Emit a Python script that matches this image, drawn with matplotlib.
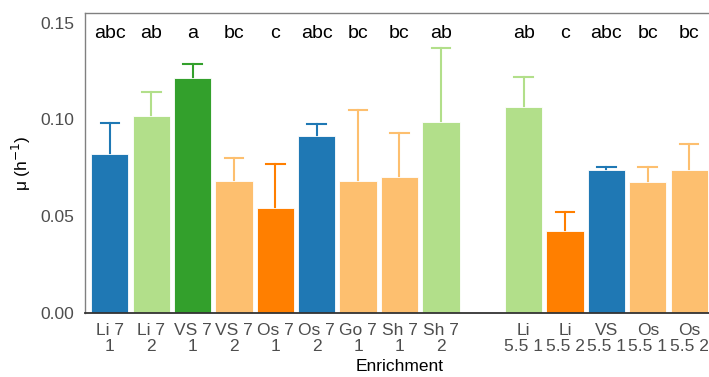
import matplotlib
matplotlib.use("Agg")
import matplotlib.pyplot as plt

plt.rcParams["font.family"] = ["Liberation Sans", "DejaVu Sans"]

labels = ["Li 7\n1", "Li 7\n2", "VS 7\n1", "VS 7\n2", "Os 7\n1", "Os 7\n2", "Go 7\n1", "Sh 7\n1", "Sh 7\n2",
          "Li\n5.5 1", "Li\n5.5 2", "VS\n5.5 1", "Os\n5.5 1", "Os\n5.5 2"]
slots = [0, 1, 2, 3, 4, 5, 6, 7, 8, 10, 11, 12, 13, 14]
mu = [0.082, 0.102, 0.1215, 0.068, 0.054, 0.0914, 0.068, 0.0703, 0.0988,
      0.1063, 0.0423, 0.0739, 0.0675, 0.0739]
err_top = [0.098, 0.114, 0.1285, 0.080, 0.0768, 0.0978, 0.105, 0.093, 0.137,
           0.122, 0.0524, 0.0756, 0.0756, 0.0875]
letters = ["abc", "ab", "a", "bc", "c", "abc", "bc", "bc", "ab",
           "ab", "c", "abc", "bc", "bc"]
colors = ["#1f78b4", "#b2df8a", "#33a02c", "#fdbf6f", "#ff7f00", "#1f78b4", "#fdbf6f", "#fdbf6f", "#b2df8a",
          "#b2df8a", "#ff7f00", "#1f78b4", "#fdbf6f", "#fdbf6f"]

fig = plt.figure(figsize=(7.09, 3.77), dpi=100)
ax = fig.add_axes([85 / 709, 1 - 313 / 377, (714 - 85) / 709, 300 / 377])

ax.bar(slots, mu, width=0.9, color=colors, edgecolor="white", linewidth=0.6, zorder=2)
for x, m, e, c, let in zip(slots, mu, err_top, colors, letters):
    ax.plot([x, x], [m, e], color=c, lw=1.5, zorder=1)
    ax.plot([x - 0.225, x + 0.225], [e, e], color=c, lw=1.5, zorder=1)
    ax.text(x, 0.1445, let, ha="center", va="center", fontsize=14, color="black")

ax.set_xlim(-0.6, 14.6)
ax.set_ylim(0, 0.155)
ax.set_yticks([0, 0.05, 0.10, 0.15])
ax.set_yticklabels(["0.00", "0.05", "0.10", "0.15"])
ax.set_xticks(slots)
ax.set_xticklabels(labels, linespacing=1.1)
ax.tick_params(length=0, labelsize=12.5, labelcolor="#4d4d4d")
ax.tick_params(axis="x", pad=7)
ax.tick_params(axis="y", pad=8)

for s in ["left", "top", "right"]:
    ax.spines[s].set_color("#808080")
    ax.spines[s].set_linewidth(1.0)
ax.spines["bottom"].set_color("#333333")
ax.spines["bottom"].set_linewidth(1.3)

ax.set_ylabel("μ (h$^{-1}$)", fontsize=12.5, color="black", labelpad=5)
ax.set_xlabel("Enrichment", fontsize=12.5, color="black", labelpad=4)

fig.savefig("out.png", dpi=100)
